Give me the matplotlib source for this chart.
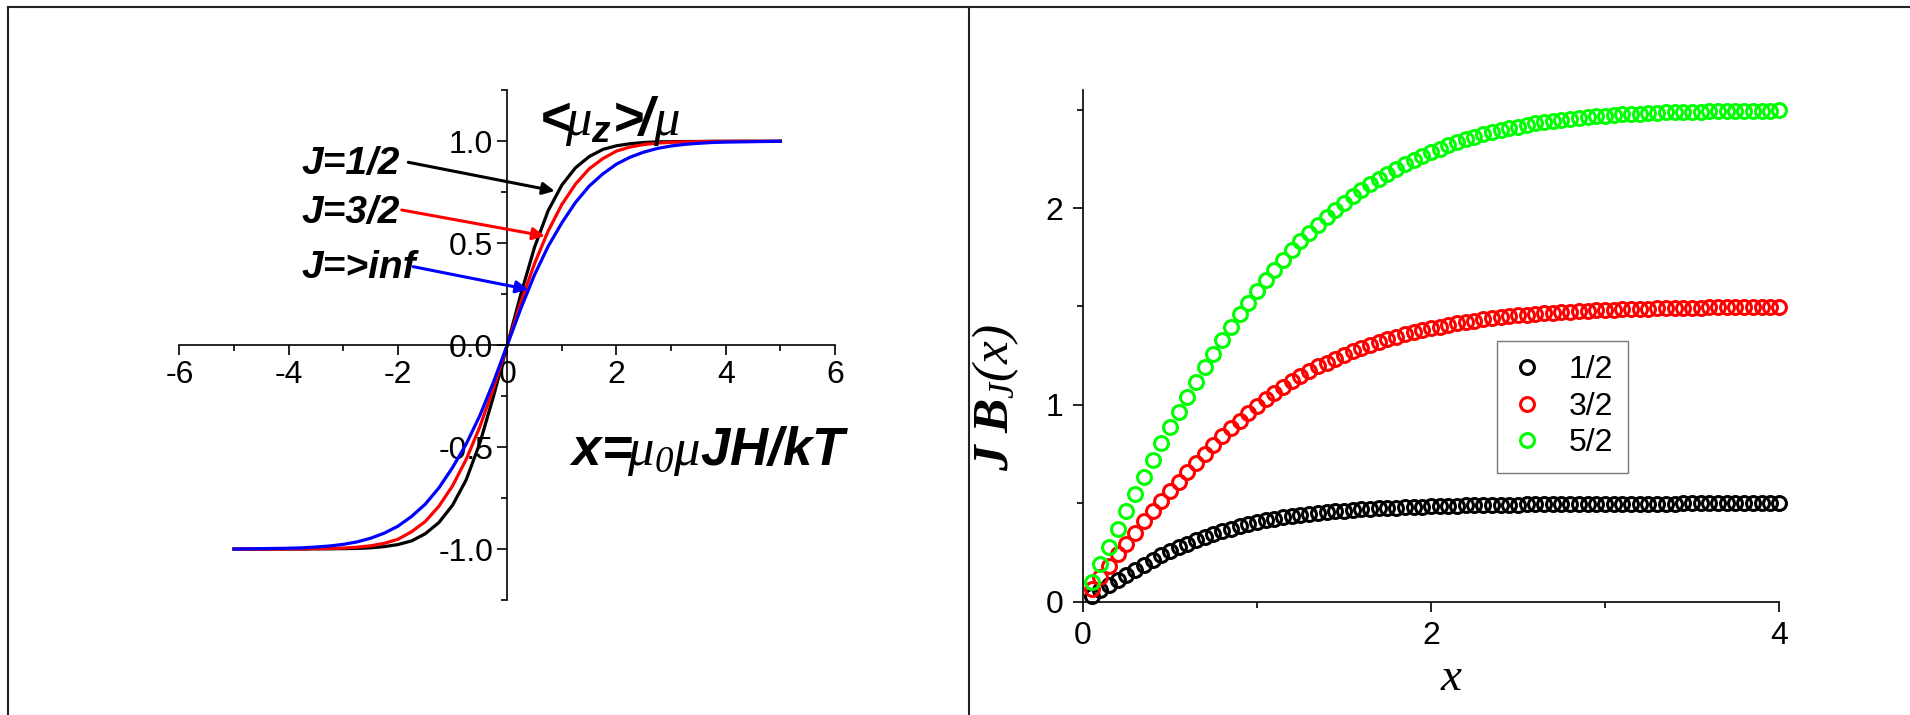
import numpy as np
import matplotlib
matplotlib.use('Agg')
import matplotlib.pyplot as plt
import matplotlib.ticker as ticker
from matplotlib.lines import Line2D

plt.rcParams['font.family'] = ['Liberation Sans Narrow', 'Liberation Sans', 'DejaVu Sans']
plt.rcParams['axes.unicode_minus'] = False
plt.rcParams['mathtext.fontset'] = 'custom'
plt.rcParams['mathtext.rm'] = 'Liberation Serif:italic'
plt.rcParams['mathtext.it'] = 'Liberation Serif:italic'
plt.rcParams['mathtext.bf'] = 'Liberation Serif:bold:italic'
plt.rcParams['mathtext.sf'] = 'Liberation Sans:bold:italic'

# left panel: magnetisation curves, x from -5 to 5 in steps of 0.25
x_left = np.linspace(-5, 5, 41)
m_half = [-1.0, -1.0, -1.0, -1.0, -1.0, -1.0, -0.999, -0.999, -0.998, -0.997,
          -0.994, -0.988, -0.978, -0.960, -0.925, -0.870, -0.785, -0.660, -0.480, -0.250,
          0.0,
          0.250, 0.480, 0.660, 0.785, 0.870, 0.925, 0.960, 0.978, 0.988, 0.994,
          0.997, 0.998, 0.999, 0.999, 1.0, 1.0, 1.0, 1.0, 1.0, 1.0]
m_three_half = [-1.0, -1.0, -1.0, -1.0, -0.999, -0.999, -0.998, -0.997, -0.995, -0.991,
                -0.984, -0.972, -0.952, -0.915, -0.865, -0.790, -0.690, -0.560, -0.400, -0.210,
                0.0,
                0.210, 0.400, 0.560, 0.690, 0.790, 0.865, 0.915, 0.952, 0.972, 0.984,
                0.991, 0.995, 0.997, 0.998, 0.999, 0.999, 1.0, 1.0, 1.0, 1.0]
m_inf = [-1.0, -0.999, -0.998, -0.997, -0.996, -0.994, -0.990, -0.985, -0.977, -0.965,
         -0.947, -0.922, -0.888, -0.840, -0.780, -0.700, -0.600, -0.485, -0.345, -0.180,
         0.0,
         0.180, 0.345, 0.485, 0.600, 0.700, 0.780, 0.840, 0.888, 0.922, 0.947,
         0.965, 0.977, 0.985, 0.990, 0.994, 0.996, 0.997, 0.998, 0.999, 1.0]

# right panel: J*B_J(x), x = 0.05 ... 4.00
x_right = np.linspace(0.05, 4.0, 80)
jb_half = [0.030, 0.058, 0.085, 0.110, 0.135, 0.160, 0.185, 0.210, 0.235, 0.258,
           0.277, 0.295, 0.312, 0.328, 0.343, 0.357, 0.370, 0.382, 0.393, 0.405,
           0.413, 0.421, 0.428, 0.435, 0.441, 0.446, 0.451, 0.455, 0.459, 0.463,
           0.466, 0.469, 0.472, 0.474, 0.476, 0.478, 0.480, 0.482, 0.483, 0.485,
           0.486, 0.487, 0.488, 0.489, 0.490, 0.491, 0.492, 0.492, 0.493, 0.493,
           0.494, 0.494, 0.495, 0.495, 0.495, 0.496, 0.496, 0.496, 0.497, 0.497,
           0.497, 0.497, 0.498, 0.498, 0.498, 0.498, 0.498, 0.498, 0.499, 0.499,
           0.499, 0.499, 0.499, 0.499, 0.499, 0.499, 0.499, 0.500, 0.500, 0.500]
jb_three_half = [0.065, 0.125, 0.180, 0.240, 0.295, 0.350, 0.410, 0.460, 0.510, 0.560,
                 0.610, 0.660, 0.705, 0.750, 0.795, 0.840, 0.880, 0.920, 0.960, 0.995,
                 1.030, 1.060, 1.090, 1.120, 1.145, 1.170, 1.195, 1.215, 1.235, 1.255,
                 1.275, 1.290, 1.305, 1.320, 1.335, 1.347, 1.358, 1.370, 1.380, 1.390,
                 1.398, 1.406, 1.414, 1.421, 1.428, 1.434, 1.440, 1.445, 1.450, 1.454,
                 1.458, 1.462, 1.465, 1.468, 1.471, 1.474, 1.476, 1.478, 1.480, 1.482,
                 1.484, 1.485, 1.487, 1.488, 1.489, 1.490, 1.491, 1.492, 1.493, 1.494,
                 1.494, 1.495, 1.496, 1.496, 1.497, 1.497, 1.497, 1.498, 1.498, 1.498]
jb_five_half = [0.100, 0.190, 0.280, 0.370, 0.460, 0.545, 0.635, 0.720, 0.805, 0.885,
                0.965, 1.040, 1.115, 1.190, 1.260, 1.330, 1.395, 1.460, 1.520, 1.580,
                1.635, 1.685, 1.735, 1.785, 1.830, 1.875, 1.915, 1.955, 1.990, 2.025,
                2.060, 2.090, 2.120, 2.150, 2.175, 2.200, 2.222, 2.245, 2.265, 2.285,
                2.302, 2.320, 2.335, 2.350, 2.362, 2.374, 2.386, 2.396, 2.405, 2.414,
                2.422, 2.430, 2.437, 2.443, 2.449, 2.454, 2.459, 2.463, 2.467, 2.470,
                2.473, 2.476, 2.478, 2.480, 2.482, 2.484, 2.486, 2.487, 2.488, 2.489,
                2.490, 2.491, 2.492, 2.493, 2.493, 2.494, 2.494, 2.495, 2.495, 2.496]

legend_labels = ['1/2', '3/2', '5/2']
curve_labels = ['J=1/2', 'J=3/2', 'J=>inf']

fig = plt.figure(figsize=(19.1, 7.15), dpi=100)

# ---- left panel ----
ax1 = fig.add_axes([0.0939, 0.1608, 0.3433, 0.7129])
ax1.plot(x_left, m_half, color='black', lw=2.3)
ax1.plot(x_left, m_three_half, color='red', lw=2.3)
ax1.plot(x_left, m_inf, color='blue', lw=2.3)
ax1.set_xlim(-6, 6)
ax1.set_ylim(-1.25, 1.25)
ax1.spines['left'].set_position(('data', 0))
ax1.spines['bottom'].set_position(('data', 0))
ax1.spines['top'].set_visible(False)
ax1.spines['right'].set_visible(False)
for s in ['left', 'bottom']:
    ax1.spines[s].set_linewidth(1.2)
ax1.xaxis.set_major_locator(ticker.MultipleLocator(2))
ax1.xaxis.set_minor_locator(ticker.MultipleLocator(1))
ax1.yaxis.set_major_locator(ticker.MultipleLocator(0.5))
ax1.yaxis.set_minor_locator(ticker.MultipleLocator(0.25))
ax1.yaxis.set_major_formatter(ticker.FormatStrFormatter('%.1f'))
ax1.tick_params(which='major', direction='out', length=7, width=1.2, labelsize=23)
ax1.tick_params(which='minor', direction='out', length=4, width=1.2)
ax1.tick_params(axis='x', pad=4)
ax1.tick_params(axis='y', pad=3)

ax1.text(0.46, 1.10, r'$\mathsf{<}\!\!\mu_{\mathsf{z}}\!\mathsf{>}\!\!\mathsf{/}\mu$',
         fontsize=38, ha='left', va='center')
ax1.text(3.70, -0.52, r'$\mathsf{x}\!\mathsf{=}\!\!\mu_{0}\mu\mathsf{JH/kT}$',
         fontsize=38, ha='center', va='center')

label_y = [0.89, 0.65, 0.38]
arrow_start = [(-1.81, 0.897), (-1.93, 0.663), (-1.72, 0.385)]
arrow_tip = [(0.87, 0.756), (0.69, 0.535), (0.385, 0.273)]
for lab, ly, st, tp, c in zip(curve_labels, label_y, arrow_start, arrow_tip,
                              ['black', 'red', 'blue']):
    ax1.text(-3.76, ly, lab, fontsize=28, fontweight='bold', fontstyle='italic',
             family='Liberation Sans', ha='left', va='center')
    ax1.annotate('', xy=tp, xytext=st,
                 arrowprops=dict(arrowstyle='-|>', color=c, lw=2.2,
                                 mutation_scale=18, shrinkA=0, shrinkB=0))

# ---- right panel ----
ax2 = fig.add_axes([0.5670, 0.1585, 0.3644, 0.7157])
ms = dict(marker='o', ls='none', mfc='none', ms=10, mew=2.2, clip_on=False)
ax2.plot(x_right, jb_half, mec='black', label=legend_labels[0], **ms)
ax2.plot(x_right, jb_three_half, mec='red', label=legend_labels[1], **ms)
ax2.plot(x_right, jb_five_half, mec='#00ff00', label=legend_labels[2], **ms)
ax2.set_xlim(0, 4)
ax2.set_ylim(0, 2.6)
ax2.spines['top'].set_visible(False)
ax2.spines['right'].set_visible(False)
for s in ['left', 'bottom']:
    ax2.spines[s].set_linewidth(1.2)
ax2.xaxis.set_major_locator(ticker.MultipleLocator(2))
ax2.xaxis.set_minor_locator(ticker.MultipleLocator(1))
ax2.yaxis.set_major_locator(ticker.MultipleLocator(1))
ax2.yaxis.set_minor_locator(ticker.MultipleLocator(0.5))
ax2.tick_params(which='major', direction='out', length=7, width=1.2, labelsize=23, pad=7)
ax2.tick_params(which='minor', direction='out', length=4, width=1.2)

ax2.text(0.53, -0.149, r'$x$', fontsize=34, ha='center', va='center',
         transform=ax2.transAxes)
ax2.text(-0.125, 0.40, r'$\mathbf{J\ B}_{J}(x)$', fontsize=37, rotation=90,
         ha='center', va='center', transform=ax2.transAxes)

leg = ax2.legend(loc='upper left', bbox_to_anchor=(1497 / 1910, 1 - 341 / 715),
                 bbox_transform=fig.transFigure, borderaxespad=0, fontsize=23,
                 fancybox=False, edgecolor='#555555', numpoints=1,
                 handlelength=1.0, handletextpad=0.8, borderpad=0.45,
                 labelspacing=0.2)
leg.get_frame().set_linewidth(1.0)

# panel frame lines
for xs, ys in [([8.3, 1910], [6.7, 6.7]), ([8.3, 8.3], [6.7, 715]), ([969.3, 969.3], [6.7, 715])]:
    fig.add_artist(Line2D([v / 1910 for v in xs], [1 - v / 715 for v in ys],
                          transform=fig.transFigure, color='#222222', lw=1.5))

fig.savefig('out.png', dpi=100)
